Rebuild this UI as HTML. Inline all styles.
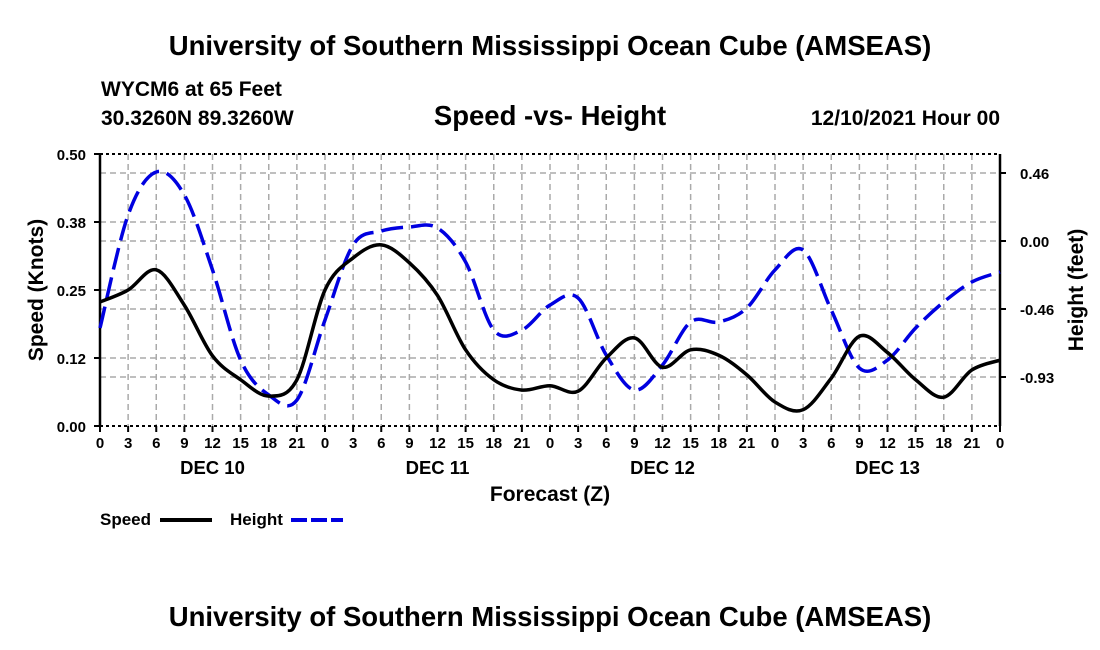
<!DOCTYPE html>
<html><head><meta charset="utf-8"><style>
body{margin:0;background:#fff;}
svg{display:block;font-family:"Liberation Sans",sans-serif;font-weight:bold;}
</style></head><body>
<svg id="c" width="1100" height="650">
<text x="550" y="55" text-anchor="middle" font-size="27.5">University of Southern Mississippi Ocean Cube (AMSEAS)</text>
<text x="101" y="96" font-size="21">WYCM6 at 65 Feet</text>
<text x="101" y="125" font-size="21">30.3260N  89.3260W</text>
<text x="550" y="125" text-anchor="middle" font-size="27.5">Speed -vs- Height</text>
<text x="1000" y="125" text-anchor="end" font-size="21">12/10/2021 Hour 00</text>
<g id="grid"></g>
<g id="axes"></g>
<g id="series"></g>
<text x="550" y="501" text-anchor="middle" font-size="21">Forecast (Z)</text>
<text transform="translate(43,290) rotate(-90)" text-anchor="middle" font-size="21">Speed (Knots)</text>
<text transform="translate(1083,290) rotate(-90)" text-anchor="middle" font-size="21">Height (feet)</text>
<g>
<text x="100" y="525" font-size="17">Speed</text>
<line x1="160" y1="520" x2="212" y2="520" stroke="#000" stroke-width="4"/>
<text x="230" y="525" font-size="17">Height</text>
<line x1="291" y1="520" x2="343" y2="520" stroke="#0000e0" stroke-width="4" stroke-dasharray="16,4"/>
</g>
<text x="550" y="626" text-anchor="middle" font-size="27.5">University of Southern Mississippi Ocean Cube (AMSEAS)</text>
</svg>
<script>
const hours=[0,3,6,9,12,15,18,21,24,27,30,33,36,39,42,45,48,51,54,57,60,63,66,69,72,75,78,81,84,87,90,93,96];
const speed=[0.228,0.25,0.287,0.222,0.129,0.085,0.055,0.085,0.25,0.309,0.333,0.30,0.24,0.14,0.085,0.066,0.074,0.064,0.125,0.162,0.108,0.14,0.13,0.094,0.044,0.03,0.088,0.165,0.135,0.085,0.053,0.103,0.121];
const height=[-0.595,0.178,0.472,0.315,-0.198,-0.814,-1.053,-1.088,-0.54,-0.027,0.068,0.096,0.089,-0.144,-0.609,-0.609,-0.438,-0.39,-0.78,-1.019,-0.848,-0.554,-0.554,-0.458,-0.198,-0.062,-0.472,-0.869,-0.814,-0.595,-0.417,-0.28,-0.212];
const speedTicks=[0,0.125,0.25,0.375,0.5];
const speedTickLabels=["0.00","0.12","0.25","0.38","0.50"];
const heightTicks=[0.465,0,-0.465,-0.93];
const heightTickLabels=["0.46","0.00","-0.46","-0.93"];
const dayLabels=["DEC 10","DEC 11","DEC 12","DEC 13"];
const L=100,R=1000,T=154,B=426;
const xs=h=>L+(R-L)*h/96;
const ys=v=>B-(B-T)*v/0.5;
const yh=v=>241-v*(68/0.465);
const NS="http://www.w3.org/2000/svg";
function mk(t,a,p){const e=document.createElementNS(NS,t);for(const k in a)e.setAttribute(k,a[k]);p.appendChild(e);return e;}
const grid=document.getElementById('grid'),axes=document.getElementById('axes'),ser=document.getElementById('series');
for(let h=3;h<96;h+=3){const l=mk('line',{x1:xs(h),x2:xs(h),y1:T,y2:B,stroke:'#aaa','stroke-width':1.5,'stroke-dasharray':'6,4'},grid);

}
speedTicks.forEach((v,i)=>{if(i>0&&i<4){const l=mk('line',{x1:L,x2:R,y1:ys(v),y2:ys(v),stroke:'#aaa','stroke-width':1.5,'stroke-dasharray':'6,4'},grid);

}
const t=mk('text',{x:L-14,y:ys(v)+6,'text-anchor':'end','font-size':15},axes);t.textContent=speedTickLabels[i];


mk('line',{x1:L-6,x2:L,y1:ys(v),y2:ys(v),stroke:'#000','stroke-width':2},axes);});
heightTicks.forEach((v,i)=>{const l=mk('line',{x1:L,x2:R,y1:yh(v),y2:yh(v),stroke:'#aaa','stroke-width':1.5,'stroke-dasharray':'6,4'},grid);


const t=mk('text',{x:1020,y:yh(v)+6,'font-size':15},axes);t.textContent=heightTickLabels[i];


mk('line',{x1:R,x2:R+6,y1:yh(v),y2:yh(v),stroke:'#000','stroke-width':2},axes);});
mk('line',{x1:L,x2:R,y1:T,y2:T,stroke:'#000','stroke-width':2,'stroke-dasharray':'3,3'},axes);
mk('line',{x1:L,x2:R,y1:B,y2:B,stroke:'#000','stroke-width':2,'stroke-dasharray':'3,3'},axes);
mk('line',{x1:L,x2:L,y1:T,y2:B,stroke:'#000','stroke-width':2.5},axes);
mk('line',{x1:R,x2:R,y1:T,y2:B,stroke:'#000','stroke-width':2.5},axes);
for(let h=0;h<=96;h+=3){mk('line',{x1:xs(h),x2:xs(h),y1:B,y2:B+6,stroke:'#000','stroke-width':2},axes);
const t=mk('text',{x:xs(h),y:448,'text-anchor':'middle','font-size':15},axes);t.textContent=String(h%24);

}
dayLabels.forEach((d,i)=>{const t=mk('text',{x:xs(12+24*i),y:474,'text-anchor':'middle','font-size':18.5},axes);t.textContent=d;

});
function path(ys_){const p=hours.map((h,i)=>[xs(h),ys_[i]]);let d='M'+p[0][0]+','+p[0][1];
for(let i=0;i<p.length-1;i++){const p0=p[Math.max(0,i-1)],p1=p[i],p2=p[i+1],p3=p[Math.min(p.length-1,i+2)];
d+=' C'+(p1[0]+(p2[0]-p0[0])/6)+','+(p1[1]+(p2[1]-p0[1])/6)+' '+(p2[0]-(p3[0]-p1[0])/6)+','+(p2[1]-(p3[1]-p1[1])/6)+' '+p2[0]+','+p2[1];}return d;}
const hp=mk('path',{d:path(height.map(yh)),fill:'none',stroke:'#0000e0','stroke-width':3.5,'stroke-dasharray':'22,8'},ser);


const sp=mk('path',{d:path(speed.map(ys)),fill:'none',stroke:'#000','stroke-width':3.5},ser);


</script>
</body></html>
